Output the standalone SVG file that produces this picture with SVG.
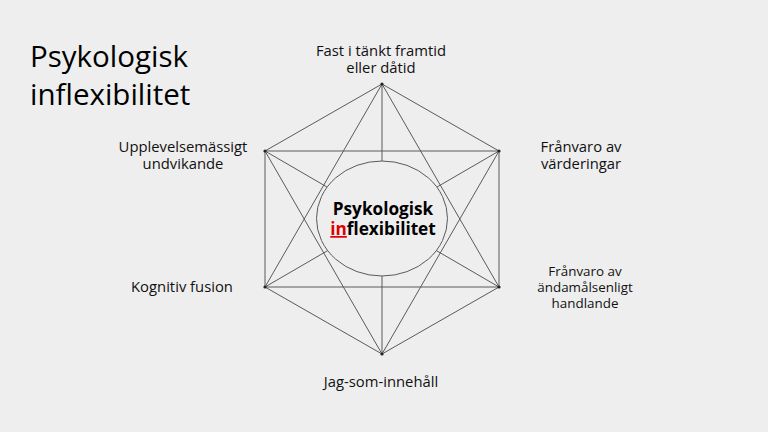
<svg xmlns="http://www.w3.org/2000/svg" width="768" height="432" viewBox="0 0 768 432">
<style>
.ln{stroke:#5a5a5a;stroke-width:1;fill:none}
.dot{fill:#222}
.lbl{font-family:"Open Sans","Noto Sans",sans-serif;font-size:14.8px;fill:#111;text-anchor:middle}
.sm{font-size:13.4px}
.title{font-family:"Open Sans","Noto Sans",sans-serif;font-size:29.5px;fill:#000}
.ctr{font-family:"Open Sans","Noto Sans",sans-serif;font-size:17.2px;font-weight:bold;fill:#000;text-anchor:middle}
</style>
<rect width="768" height="432" fill="#eeeeee"/>
<g id="title">
<text class="title" x="30" y="67">Psykologisk</text>
<text class="title" x="30" y="105">inflexibilitet</text>
</g>
<g id="connectors">
<polygon class="ln" points="382,84 499,151 499,287 382,354 265,287 265,151"/>
<polygon class="ln" points="382,84 499,287 265,287"/>
<polygon class="ln" points="382,354 265,151 499,151"/>
<line class="ln" x1="382" y1="84" x2="382" y2="354"/>
<line class="ln" x1="265" y1="151" x2="499" y2="287"/>
<line class="ln" x1="499" y1="151" x2="265" y2="287"/>
</g>
<g id="center">
<ellipse cx="382" cy="218.5" rx="65.5" ry="57.5" fill="#eeeeee" stroke="#5a5a5a" stroke-width="1"/>
<text class="ctr" x="383" y="215">Psykologisk</text>
<text class="ctr" x="383" y="235"><tspan fill="#e00000" text-decoration="underline">in</tspan>flexibilitet</text>
</g>
<g id="vertices">
<circle class="dot" cx="382" cy="84" r="1.6"/>
<circle class="dot" cx="499" cy="151" r="1.6"/>
<circle class="dot" cx="499" cy="287" r="1.6"/>
<circle class="dot" cx="382" cy="354" r="1.6"/>
<circle class="dot" cx="265" cy="287" r="1.6"/>
<circle class="dot" cx="265" cy="151" r="1.6"/>
</g>
<g id="node-top">
<text class="lbl" x="381" y="56">Fast i tänkt framtid</text>
<text class="lbl" x="381" y="73">eller dåtid</text>
</g>
<g id="node-upper-right">
<text class="lbl" x="581" y="152">Frånvaro av</text>
<text class="lbl" x="581" y="169">värderingar</text>
</g>
<g id="node-lower-right">
<text class="lbl sm" x="585" y="276">Frånvaro av</text>
<text class="lbl sm" x="585" y="292">ändamålsenligt</text>
<text class="lbl sm" x="585" y="308">handlande</text>
</g>
<g id="node-bottom">
<text class="lbl" x="381" y="387">Jag-som-innehåll</text>
</g>
<g id="node-lower-left">
<text class="lbl" x="182" y="292">Kognitiv fusion</text>
</g>
<g id="node-upper-left">
<text class="lbl" x="183" y="152">Upplevelsemässigt</text>
<text class="lbl" x="183" y="169">undvikande</text>
</g>
</svg>
